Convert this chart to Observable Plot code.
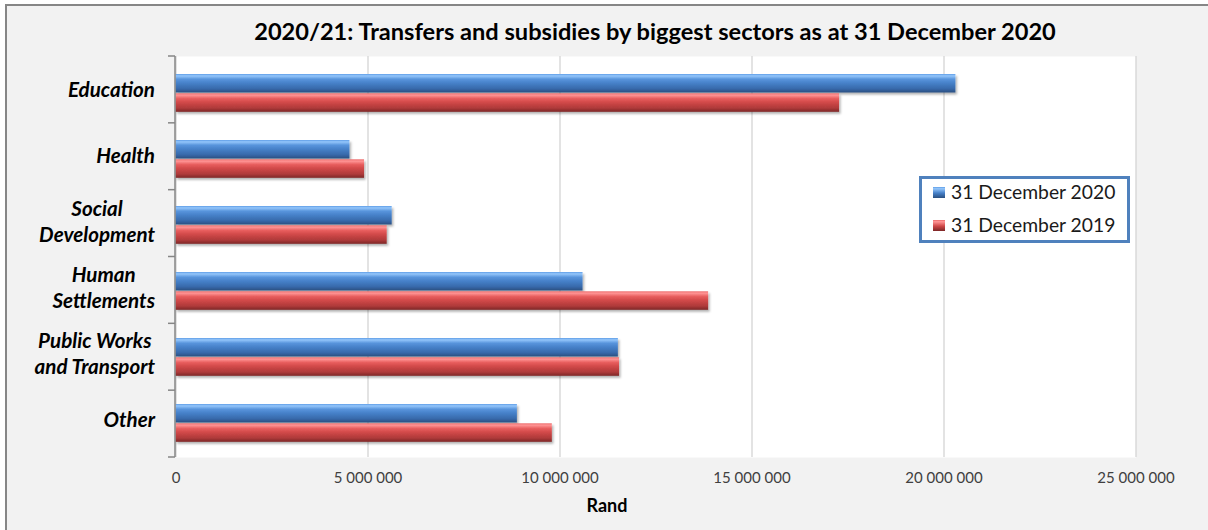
<!DOCTYPE html>
<html><head><meta charset="utf-8">
<script src="https://cdn.jsdelivr.net/npm/d3@7"></script>
<script src="https://cdn.jsdelivr.net/npm/@observablehq/plot@0.6"></script>
<style>
body{margin:0;background:#fff;}
#wrap{position:relative;width:1208px;height:530px;overflow:hidden;font-family:Lato,"Open Sans",sans-serif;}
#frame{position:absolute;left:5px;top:4px;width:1300px;height:600px;border-top:2px solid #868686;border-left:2px solid #868686;background:#f2f2f2;}
#title{position:absolute;left:155px;width:1000px;top:16px;text-align:center;font-weight:700;font-size:23.6px;line-height:30px;color:#000;}
#chart{position:absolute;left:0;top:40px;}
#xlabel{position:absolute;left:557px;width:100px;text-align:center;top:494px;font-weight:700;font-size:18px;line-height:22px;color:#000;}
#legend{position:absolute;left:919px;top:176px;width:211px;height:67px;box-sizing:border-box;border:3px solid #4f81bd;background:#fff;}
.row{position:absolute;left:0;height:22px;line-height:22px;font-size:19.3px;color:#1a1a1a;white-space:nowrap;}
.sw{position:absolute;left:11px;top:6px;width:12px;height:11px;}
.lt{position:absolute;left:29px;top:0;}
</style>
</head><body>
<div id="wrap">
  <div id="frame"></div>
  <div id="title"></div>
  <div id="chart"></div>
  <div id="xlabel"></div>
  <div id="legend"></div>
</div>
<script>
const titleText = "2020/21: Transfers and subsidies by biggest sectors as at 31 December 2020";
const xAxisLabel = "Rand";
const categories = ["Education","Health","Social Development","Human Settlements","Public Works and Transport","Other"];
const categoryLabels = ["Education","Health","Social\nDevelopment","Human\nSettlements","Public Works\nand Transport","Other"];
const series = ["31 December 2020","31 December 2019"];
const values2020 = [20310000, 4530000, 5630000, 10600000, 11520000, 8890000];
const values2019 = [17280000, 4910000, 5500000, 13870000, 11550000, 9800000];
const xTicks = [0, 5000000, 10000000, 15000000, 20000000, 25000000];

const rows = [];
categories.forEach((c,i)=>{
  rows.push({category:c, series:series[0], value:values2020[i]});
  rows.push({category:c, series:series[1], value:values2019[i]});
});
const labelMap = new Map(categories.map((c,i)=>[c, categoryLabels[i]]));
const fmt = d3.formatLocale({decimal:".", thousands:" ", grouping:[3], currency:["",""]}).format(",");

document.getElementById("title").textContent = titleText;
document.getElementById("xlabel").textContent = xAxisLabel;

const leftAxis = (index, scales, values, dims) => {
  const g = d3.create("svg:g");
  const top = dims.marginTop, bottom = dims.height - dims.marginBottom, x0 = dims.marginLeft - 0.5;
  const n = categories.length;
  g.append("line").attr("x1",x0).attr("x2",x0).attr("y1",top).attr("y2",bottom)
    .attr("stroke","#868686").attr("stroke-width",1.5);
  for (let i=0;i<=n;i++){
    const y = top + (bottom-top)*i/n;
    g.append("line").attr("x1",x0-7).attr("x2",x0).attr("y1",y).attr("y2",y)
      .attr("stroke","#868686").attr("stroke-width",1.5);
  }
  return g.node();
};

const chart = Plot.plot({
  width: 1208, height: 480,
  marginLeft: 175.5, marginRight: 72.5, marginTop: 16, marginBottom: 63,
  style: {background: "transparent", fontFamily: "Lato, sans-serif", overflow: "visible"},
  x: {domain: [0, 25000000], ticks: xTicks},
  y: {domain: categories, padding: 0},
  marks: [
    Plot.frame({fill: "white", stroke: null}),
    Plot.gridX(xTicks, {stroke: "#d4d4d4", strokeOpacity: 1, strokeWidth: 1.3}),
    Plot.barX(rows.filter(d=>d.series===series[0]), {x: "value", y: "category", fill: "url(#gBlue)", insetTop: 15, insetBottom: 32.5}),
    Plot.barX(rows.filter(d=>d.series===series[1]), {x: "value", y: "category", fill: "url(#gRed)", insetTop: 34.3, insetBottom: 13.2}),
    leftAxis,
    Plot.axisX({ticks: xTicks, tickSize: 0, tickPadding: 15, tickFormat: fmt, fontSize: 15, fill: "#404040", label: null}),
    Plot.axisY({tickSize: 0, tickPadding: 21, dy: -3.5, tickFormat: d => labelMap.get(d), fontSize: 20.6, fontWeight: "bold", fontStyle: "italic", lineHeight: 1.27, fill: "#000", label: null})
  ]
});
document.getElementById("chart").appendChild(chart);

const svg = d3.select(chart);
const defs = svg.insert("defs", ":first-child");
function grad(id, stops){
  const lg = defs.append("linearGradient").attr("id", id).attr("x1",0).attr("y1",0).attr("x2",0).attr("y2",1);
  stops.forEach(([o,c])=>lg.append("stop").attr("offset",o).attr("stop-color",c));
}
grad("gBlue", [[0,"#5f9de6"],[0.1,"#94c6fb"],[0.28,"#5894dc"],[0.5,"#4680c8"],[0.8,"#3769aa"],[1,"#2a4f80"]]);
grad("gRed", [[0,"#ec6a6a"],[0.1,"#ff9595"],[0.28,"#e85e5e"],[0.5,"#d04848"],[0.8,"#ae3a3a"],[1,"#7c2626"]]);
const f = defs.append("filter").attr("id","sh").attr("x","-5%").attr("y","-30%").attr("width","110%").attr("height","170%");
f.append("feDropShadow").attr("dx",1.5).attr("dy",2).attr("stdDeviation",1.2).attr("flood-opacity",0.3);
svg.selectAll('g[aria-label="bar"]').attr("filter","url(#sh)");

// center multi-line y labels within their block
svg.selectAll('g[aria-label="y-axis tick label"] text').each(function(){
  const t = d3.select(this);
  const spans = t.selectAll("tspan").nodes();
  if (spans.length < 2) return;
  const w = d3.max(spans, s => s.getComputedTextLength());
  const base = +(this.getAttribute("x") || 0);
  t.attr("text-anchor","middle");
  spans.forEach(s => s.setAttribute("x", base - w/2));
});

// legend
const leg = d3.select("#legend");
const swGrad = ["linear-gradient(#5f9de6,#94c6fb 15%,#4680c8 55%,#2a4f80)", "linear-gradient(#ec6a6a,#ff9595 15%,#d04848 55%,#7c2626)"];
series.forEach((s,i)=>{
  const r = leg.append("div").attr("class","row").style("top", (2 + i*33) + "px");
  r.append("div").attr("class","sw").style("background", swGrad[i]);
  r.append("div").attr("class","lt").text(s);
});
</script>
</body></html>
